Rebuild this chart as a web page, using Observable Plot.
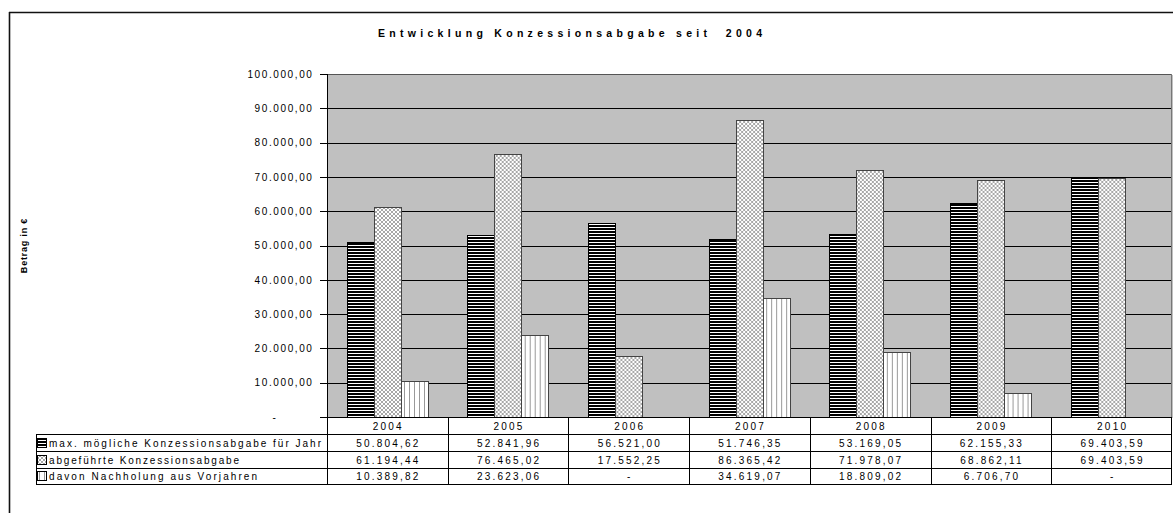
<!DOCTYPE html>
<html><head><meta charset="utf-8">
<script src="https://cdn.jsdelivr.net/npm/d3@7"></script>
<script src="https://cdn.jsdelivr.net/npm/@observablehq/plot@0.6"></script>
<style>
body{margin:0;background:#fff;}
#wrap{position:relative;width:1173px;height:513px;overflow:hidden;}
</style></head><body><div id="wrap"></div>
<script>
const years = ["2004","2005","2006","2007","2008","2009","2010"];
const seriesNames = ["max. mögliche Konzessionsabgabe für Jahr","abgeführte Konzessionsabgabe","davon Nachholung aus Vorjahren"];
const maxMoeglich = [50804.62, 52841.96, 56521.00, 51746.35, 53169.05, 62155.33, 69403.59];
const abgefuehrt  = [61194.44, 76465.02, 17552.25, 86365.42, 71978.07, 68862.11, 69403.59];
const nachholung  = [10389.82, 23623.06, null, 34619.07, 18809.02, 6706.70, null];
const yTicks = [0,10000,20000,30000,40000,50000,60000,70000,80000,90000,100000];
const titleText = "Entwicklung Konzessionsabgabe seit  2004";
const yLabel = "Betrag in €";

const seriesValues = [maxMoeglich, abgefuehrt, nachholung];
const patterns = ["pH","pX","pV"];
const outlines = ["#000","#444","#444"];

const data = [];
years.forEach((yr,i)=>{
  seriesNames.forEach((s,k)=>{ data.push({year:yr, series:s, value:seriesValues[k][i]}); });
});

const de = d3.formatLocale({decimal:",", thousands:".", grouping:[3], currency:["","€"]});
const fmt = de.format(",.2f");
const fmtCell = v => (v == null || v === 0) ? "-" : fmt(v);

const FONT = "'Liberation Sans', Arial, sans-serif";

const plot = Plot.plot({
  width: 1173, height: 513,
  marginLeft: 327, marginRight: 1, marginTop: 74, marginBottom: 96,
  style: {fontFamily: FONT, fontSize: "10px", background: "transparent", overflow: "visible", color:"#000"},
  facet: {data, x: "year", marginLeft: 327, marginRight: 1},
  fx: {domain: years, padding: 0, round: false, axis: null, label: null},
  x: {domain: seriesNames, paddingInner: 0, paddingOuter: 0.735, axis: null},
  y: {domain: [0,100000], ticks: yTicks, tickFormat: v => v === 0 ? "-" : fmt(v), tickSize: 7, tickPadding: 7, label: null},
  marks: [
    Plot.frame({fill: "#c0c0c0", stroke: "none", shapeRendering: "crispEdges"}),
    Plot.ruleY(yTicks, {stroke: "#000", strokeWidth: 1, shapeRendering: "crispEdges"}),
    ...seriesNames.map((s,k) => Plot.barY(data, {
      filter: d => d.series === s && d.value != null,
      x: "series", y: "value",
      fill: `url(#${patterns[k]})`, stroke: outlines[k], strokeWidth: 1, shapeRendering: "crispEdges"
    }))
  ]
});
document.getElementById("wrap").appendChild(plot);

const svg = d3.select(plot);
const defs = svg.insert("defs", ":first-child");
// horizontal black stripes
const pH = defs.append("pattern").attr("id","pH").attr("patternUnits","userSpaceOnUse").attr("width",4).attr("height",3);
pH.append("rect").attr("width",4).attr("height",3).attr("fill","#fff");
pH.append("rect").attr("width",4).attr("height",2).attr("fill","#000");
// crosshatch
const pX = defs.append("pattern").attr("id","pX").attr("patternUnits","userSpaceOnUse").attr("width",4).attr("height",4);
pX.append("rect").attr("width",4).attr("height",4).attr("fill","#fff");
pX.append("path").attr("d","M0,0L4,4M4,0L0,4").attr("stroke","#a8a8a8").attr("stroke-width",1);
// vertical lines
const pV = defs.append("pattern").attr("id","pV").attr("patternUnits","userSpaceOnUse").attr("width",5).attr("height",4);
pV.append("rect").attr("width",5).attr("height",4).attr("fill","#fff");
pV.append("rect").attr("x",4).attr("width",1).attr("height",4).attr("fill","#999");

// y tick styling
svg.selectAll("g[aria-label^='y-axis'] text").style("letter-spacing","1.6px").attr("fill","#000").attr("font-size","10px");
svg.selectAll("g[aria-label^='y-axis'] path, g[aria-label^='y-axis'] line").attr("shape-rendering","crispEdges");
svg.selectAll("g[aria-label^='y-axis'] text").filter(function(){return this.textContent === "-";}).attr("dx", -36);

const ys = plot.scale("y");
const fxs = plot.scale("fx");
const y0 = Math.round(ys.apply(0)), yTop = Math.round(ys.apply(100000));
const bw = fxs.bandwidth;
const xL = fxs.apply(years[0]);
const xR = fxs.apply(years[years.length-1]) + bw;

const g = svg.append("g").attr("font-family", FONT);
// plot area border
const bg = g.append("g").attr("shape-rendering","crispEdges");
bg.append("line").attr("x1",xL).attr("x2",xR).attr("y1",yTop+0.5).attr("y2",yTop+0.5).attr("stroke","#555");
bg.append("line").attr("x1",xR-0.5).attr("x2",xR-0.5).attr("y1",yTop).attr("y2",y0).attr("stroke","#777");
bg.append("line").attr("x1",xL+0.5).attr("x2",xL+0.5).attr("y1",yTop).attr("y2",y0).attr("stroke","#000");

// outer chart frame
g.append("line").attr("x1",9).attr("x2",1173).attr("y1",12.5).attr("y2",12.5).attr("stroke","#111").attr("stroke-width",1.6);
g.append("line").attr("x1",9.5).attr("x2",9.5).attr("y1",12).attr("y2",513).attr("stroke","#111").attr("stroke-width",1.6);

// title
g.append("text").attr("x",378).attr("y",37).attr("text-anchor","start")
  .attr("font-size","10.5px").attr("font-weight","bold")
  .attr("textLength",384).attr("lengthAdjust","spacing").text(titleText);
// y label
g.append("text").attr("transform",`translate(27,${(yTop+y0)/2}) rotate(-90)`).attr("text-anchor","middle")
  .attr("font-size","9px").attr("font-weight","bold").style("letter-spacing","0.8px").text(yLabel);

// data table
const rowY = [y0, y0+17, y0+34, y0+51, y0+67];
const legendX = 36;
const tg = g.append("g").attr("shape-rendering","crispEdges");
tg.append("line").attr("x1",xL).attr("x2",xR).attr("y1",rowY[0]+0.5).attr("y2",rowY[0]+0.5).attr("stroke","#000");
for (let r=1;r<rowY.length;r++) tg.append("line").attr("x1",legendX).attr("x2",xR).attr("y1",rowY[r]+0.5).attr("y2",rowY[r]+0.5).attr("stroke","#000");
years.forEach((yr,i)=>{
  const x = Math.round(fxs.apply(yr));
  tg.append("line").attr("x1",x+0.5).attr("x2",x+0.5).attr("y1",rowY[0]).attr("y2",rowY[4]+1).attr("stroke","#000");
});
tg.append("line").attr("x1",Math.round(xR)-0.5).attr("x2",Math.round(xR)-0.5).attr("y1",rowY[0]).attr("y2",rowY[4]+1).attr("stroke","#000");
tg.append("line").attr("x1",legendX+0.5).attr("x2",legendX+0.5).attr("y1",rowY[1]).attr("y2",rowY[4]+1).attr("stroke","#000");

const cellStyle = t => t.attr("font-size","10px").style("letter-spacing","2.2px").attr("fill","#000");
years.forEach((yr,i)=>{
  const cx = fxs.apply(yr) + bw/2 + 1;
  cellStyle(g.append("text").attr("x",cx).attr("y",(rowY[0]+rowY[1])/2+4).attr("text-anchor","middle").text(yr));
  seriesValues.forEach((vals,k)=>{
    cellStyle(g.append("text").attr("x",cx).attr("y",(rowY[k+1]+rowY[k+2])/2+4).attr("text-anchor","middle").text(fmtCell(vals[i])));
  });
});
const legendLens = [272, 190, 208];
seriesNames.forEach((s,k)=>{
  const cy = Math.round((rowY[k+1]+rowY[k+2])/2);
  tg.append("rect").attr("x",legendX+1.5).attr("y",cy-4.5).attr("width",9).attr("height",9)
    .attr("fill",`url(#${patterns[k]})`).attr("stroke","#000");
  g.append("text").attr("x",legendX+13).attr("y",cy+4).attr("text-anchor","start")
    .attr("font-size","10px").attr("fill","#000")
    .attr("textLength",legendLens[k]).attr("lengthAdjust","spacing").text(s);
});
</script></body></html>
